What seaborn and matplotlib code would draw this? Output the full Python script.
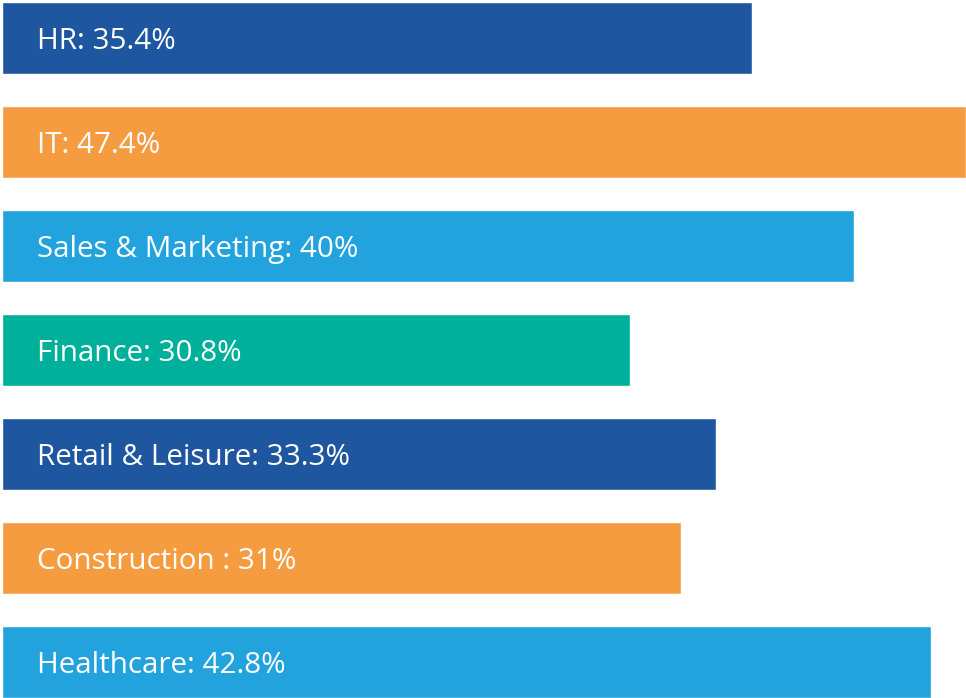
import matplotlib
matplotlib.use("Agg")
import matplotlib.pyplot as plt
import pandas as pd
import seaborn as sns

# sectors and the share printed on each bar
sectors = ["HR", "IT", "Sales & Marketing", "Finance", "Retail & Leisure",
           "Construction ", "Healthcare"]
shares = ["35.4%", "47.4%", "40%", "30.8%", "33.3%", "31%", "42.8%"]
# drawn bar lengths (scaled so IT = 47.4)
bar_length = [36.9, 47.4, 41.9, 30.9, 35.1, 33.4, 45.7]
colors = ["#1f56a0", "#f59c40", "#22a3dd", "#00b09a", "#1f56a0", "#f59c40", "#22a3dd"]

df = pd.DataFrame({"sector": sectors, "length": bar_length})

sns.set_style("white")
plt.rcParams['font.family'] = ['Open Sans', 'DejaVu Sans']

fig = plt.figure(figsize=(9.66, 6.98), dpi=100)
ax = fig.add_axes([0, 0, 1, 1])

sns.barplot(data=df, x="length", y="sector", hue="sector", palette=colors,
            orient="h", width=0.69, legend=False, ax=ax, saturation=1)

ax.set_xlim(-0.1, 47.4)
ax.set_ylim(6.346, -0.365)
ax.axis("off")

trans = matplotlib.transforms.blended_transform_factory(ax.transAxes, ax.transData)
for i, (name, share) in enumerate(zip(sectors, shares)):
    ax.text(37 / 966, i + 0.035, "{}: {}".format(name, share), transform=trans,
            color="white", fontsize=21.3, va="center", ha="left")

fig.savefig("out.png", dpi=100)
